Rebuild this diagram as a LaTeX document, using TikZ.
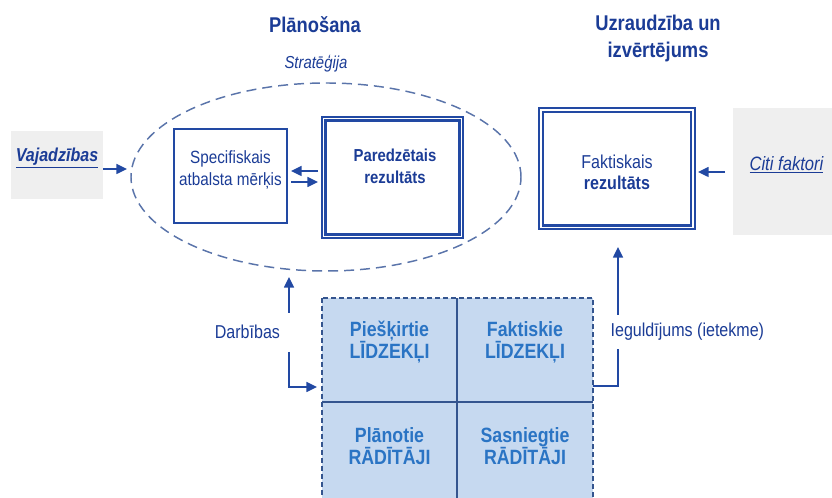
\documentclass[tikz,border=0pt]{standalone}
\usepackage{fontspec}
\setmainfont{Liberation Sans}[FakeStretch=0.86]
\usetikzlibrary{shapes.geometric,arrows.meta,fit,calc}
\definecolor{tblue}{HTML}{1B3C96}
\definecolor{lblue}{HTML}{2249A3}
\definecolor{eblue}{HTML}{5A74AA}
\definecolor{gblue}{HTML}{2A74C4}
\definecolor{gfill}{HTML}{C6D9F0}
\definecolor{gline}{HTML}{34558F}
\definecolor{grayone}{HTML}{EFEFEF}
\begin{document}
\begin{tikzpicture}[x=0.75pt,y=-0.75pt,
  every node/.style={inner sep=0pt,outer sep=0pt},
  title/.style={text=tblue,font=\fontsize{16}{20}\selectfont\bfseries,align=center},
  strat/.style={text=tblue,font=\fontsize{13}{16}\selectfont\itshape},
  arr/.style={draw=lblue,line width=1.1pt,-{Triangle[length=8pt,width=7.5pt]}},
  graybox/.style={fill=grayone,text=tblue,align=center},
  plainbox/.style={draw=lblue,line width=1.5pt,text=tblue,align=center,font=\fontsize{13.3}{16.5}\selectfont},
  dblouter/.style={draw=lblue,line width=0.9pt},
  dblinner/.style={draw=lblue,line width=2pt},
  boxtext/.style={text=tblue,align=center,font=\fontsize{13}{16.5}\selectfont},
  cell/.style={fill=gfill,text=gblue,align=center,font=\fontsize{15.5}{16.5}\selectfont\bfseries},
  lbl/.style={text=tblue,font=\fontsize{14}{16}\selectfont}
]
\useasboundingbox (0,0) rectangle (832,498);
\clip (0,0) rectangle (832,498);

% titles
\node[title] (plan) at (315,25) {Plānošana};
\node[title] (uzr) at (658,38.5) {Uzraudzība un\\izvērtējums};
\node[strat] (strat) at (316,64) {Stratēģija};

% strategy ellipse
\node[ellipse,draw=eblue,line width=1.1pt,dash pattern=on 7.5pt off 4.5pt,
      minimum width=292.5pt,minimum height=141pt] (ell) at (326,177) {};

% side boxes
\node[graybox,fit={(11,131) (103,199)},font=\fontsize{14}{16}\selectfont\bfseries\itshape] (vaj) {\underline{Vajadzības}};
\node[graybox,fit={(733,108) (840,235)},font=\fontsize{14.5}{16}\selectfont\itshape] (citi) {\underline{Citi faktori}};

% planning boxes
\node[plainbox,fit={(174,129) (287,223)}] (spec) {Specifiskais\\atbalsta mērķis};
\node[dblouter,fit={(322,117) (463,238)}] (pared) {};
\draw[dblinner] ([shift={(3.5,3.5)}]pared.north west) rectangle ([shift={(-3.5,-3.5)}]pared.south east);
\node[boxtext,font=\fontsize{13}{16.5}\selectfont\bfseries] (paredtxt) at (395,166) {Paredzētais\\rezultāts};

% monitoring box
\node[dblouter,fit={(539,108) (695,229)}] (fakt) {};
\draw[dblinner] ([shift={(4,4)}]fakt.north west) rectangle ([shift={(-4,-3.5)}]fakt.south east);
\node[boxtext,font=\fontsize{14}{16}\selectfont] (fakttxt) at (617,172) {Faktiskais\\\textbf{rezultāts}};

% grid
\node[cell,fit={(322,298) (457,402)}] (pie) {Piešķirtie\\LĪDZEKĻI};
\node[cell,fit={(457,298) (593,402)}] (fak) {Faktiskie\\LĪDZEKĻI};
\node[cell,fit={(322,402) (457,506)}] (pla) {Plānotie\\RĀDĪTĀJI};
\node[cell,fit={(457,402) (593,506)}] (sas) {Sasniegtie\\RĀDĪTĀJI};
\draw[gline,line width=1.2pt] (pie.north east) -- (pla.south east);
\draw[gline,line width=1.2pt] (pie.south west) -- (fak.south east);
\draw[gline,line width=1.1pt,dash pattern=on 3.5pt off 2.5pt] (pie.north west) rectangle (sas.south east);

% arrows
\coordinate (vajtip) at (127,169);
\draw[arr] (vaj.east |- vajtip) -- (vajtip);
\draw[arr] ([shift={(-4,-6.5)}]pared.west) -- ([shift={(4,-5)}]spec.east);
\draw[arr] ([shift={(4,6)}]spec.east) -- ([shift={(-4,4.5)}]pared.west);
\draw[arr] ([shift={(-8,0.5)}]citi.west) -- ([shift={(3,3.5)}]fakt.east);

\coordinate (dtop) at (289,313);
\coordinate (dtip) at (289,277);
\coordinate (dbot) at (289,352);
\draw[arr] (dtop) -- (dtip);
\draw[arr] (dbot) |- ([shift={(-5,37)}]pie.west);
\node[lbl,anchor=east] (darb) at (280,332) {Darbības};

\coordinate (itip) at (618,247);
\draw[arr] ([shift={(0,-16)}]fak.south east) -| (itip);
\node[lbl,anchor=west,fill=white,inner xsep=2pt,inner ysep=6pt] (iegul) at (608,332) {Ieguldījums (ietekme)};
\end{tikzpicture}
\end{document}
